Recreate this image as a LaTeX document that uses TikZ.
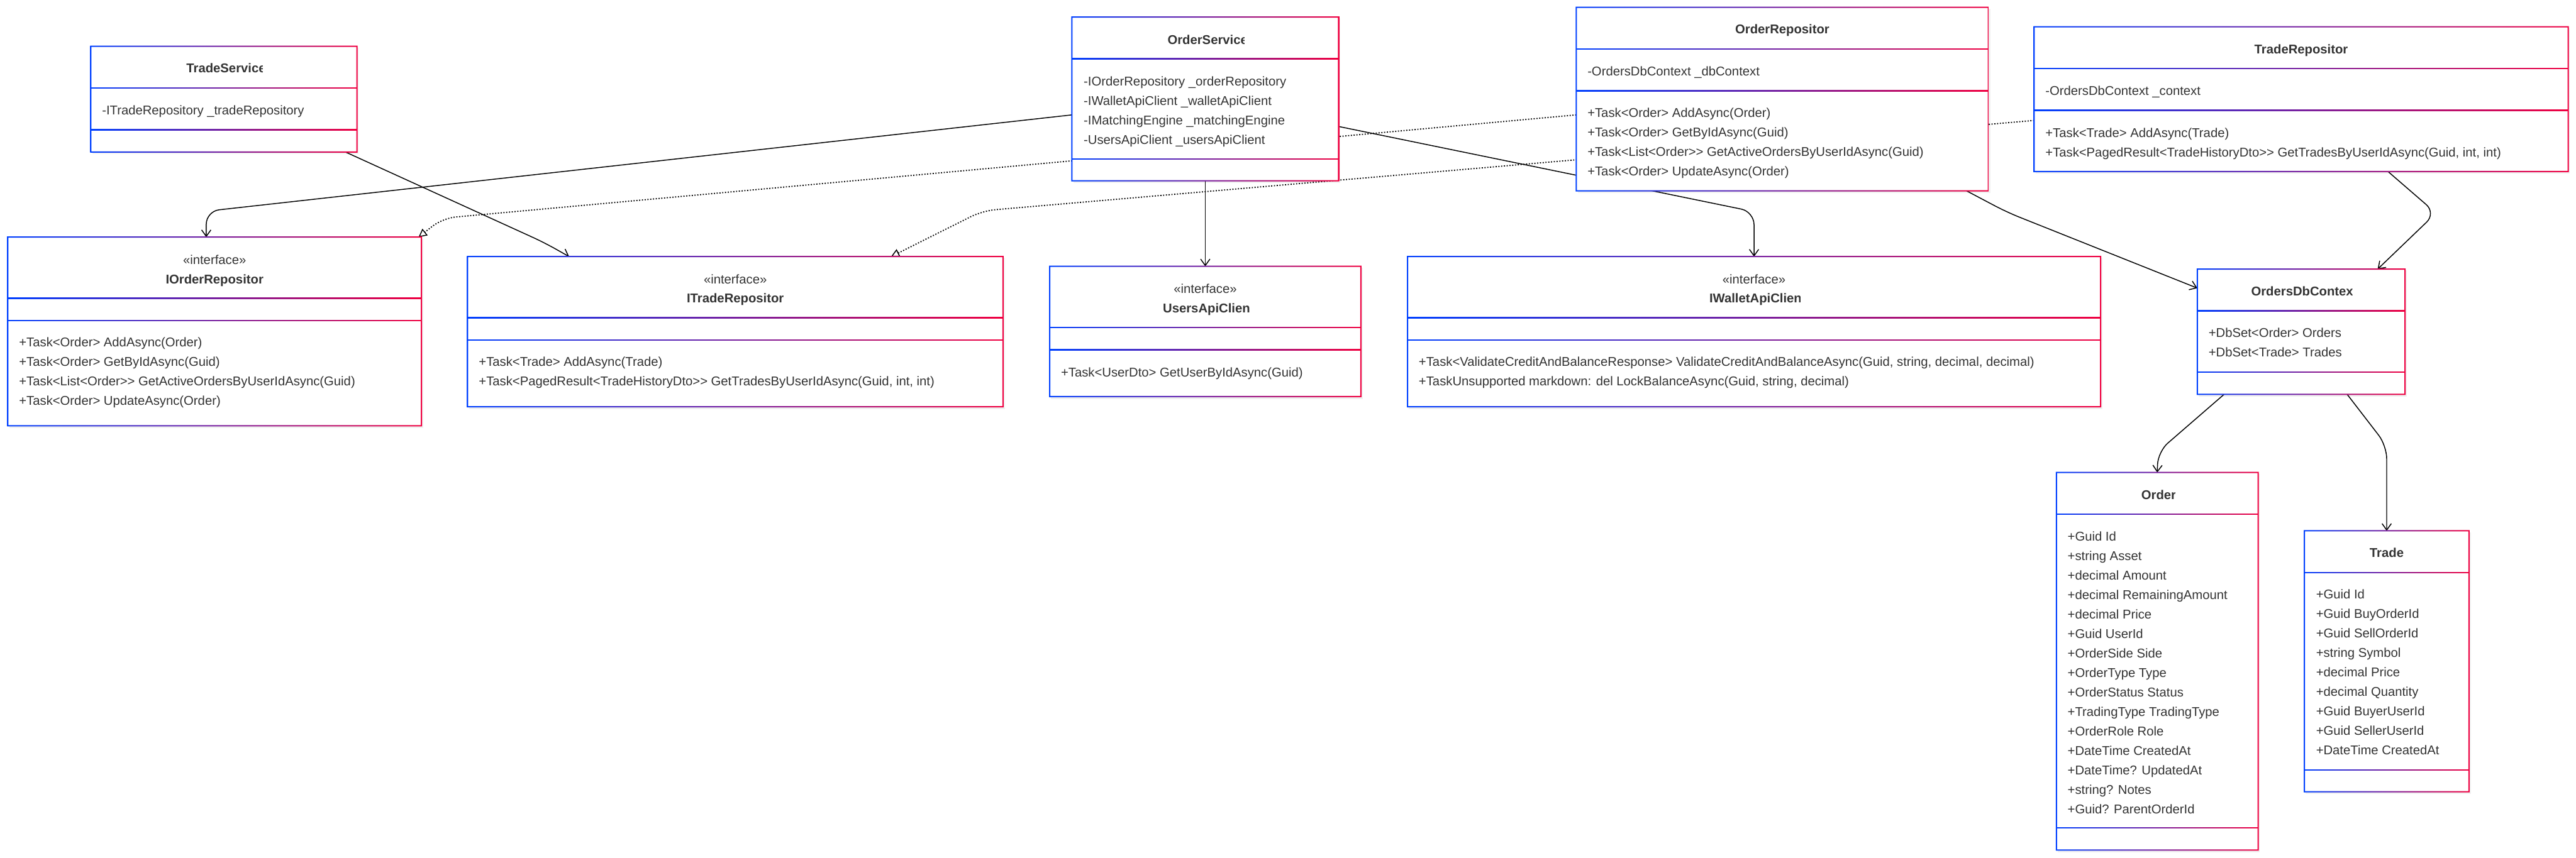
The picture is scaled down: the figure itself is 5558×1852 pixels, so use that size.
\documentclass[tikz,border=0pt]{standalone}
\usepackage{fontspec}
\setmainfont{Liberation Sans}
\usetikzlibrary{arrows.meta,calc}
\definecolor{ublue}{RGB}{0,64,255}
\definecolor{ured}{RGB}{240,0,64}
\definecolor{txtc}{HTML}{333333}
\tikzset{
 boxn/.style={inner sep=0pt,outer sep=0pt,draw=none},
 txt/.style={inner sep=0pt,anchor=base west,text=txtc,font=\fontsize{27.5}{33}\selectfont},
 ttl/.style={txt,font=\fontsize{27.5}{33}\selectfont\bfseries},
 ttlc/.style={ttl,anchor=base},
 ster/.style={txt,anchor=base},
 assoc/.style={line width=2pt,rounded corners=28pt,-{Straight Barb[length=14pt,width=20pt,line width=2pt]}},
 realize/.style={line width=2.5pt,dash pattern=on 2.5pt off 3.5pt,rounded corners=28pt,-{Triangle[open,length=18pt,width=18pt,line width=2pt,fill=white]}},
 gradfill/.style={left color=ublue,right color=ured},
}
\newcommand\defbox[5]{\node[boxn,minimum width=#4pt,minimum height=#5pt] (#1) at (#2,#3) {};}
\newcommand\drawbox[3]{%
 \fill[black,opacity=0.06] ([shift={(3,3)}]#1.north west) rectangle ([shift={(4,5)}]#1.south east);
 \fill[white] (#1.north west) rectangle (#1.south east);
 \shade[gradfill,even odd rule] ([shift={(-1.5,-1.5)}]#1.north west) rectangle ([shift={(1.5,1.5)}]#1.south east)
   ([shift={(1.2,1.2)}]#1.north west) rectangle ([shift={(-1.2,-1.2)}]#1.south east);
 \shade[gradfill] ([shift={(0,#2-1.05)}]#1.north west) rectangle ([shift={(0,#2+1.05)}]#1.north east);
 \shade[gradfill] ([shift={(0,#3-1.05)}]#1.north west) rectangle ([shift={(0,#3+1.05)}]#1.north east);
}
\newcommand\cliptitle[5]{%
 \begin{scope}\clip (#2-10,#4-35) rectangle (#3,#4+12);
 \node[ttl] (#1) at (#2,#4) {#5};\end{scope}}
\begin{document}
\begin{tikzpicture}[x=1pt,y=-1pt]
\useasboundingbox (0,0) rectangle (5558,1852);
\fill[white] (0,0) rectangle (5558,1852);
% box frames (invisible named nodes)
\defbox{tradesvc}{483}{214}{574}{228}
\defbox{ordsvc}{2600.5}{213.5}{575}{353}
\defbox{ordrepo}{3845.5}{214}{889}{396}
\defbox{trrepo}{4965}{214}{1152}{312}
\defbox{iordrepo}{463}{715.5}{892}{407}
\defbox{itrrepo}{1586.5}{716}{1155}{324}
\defbox{usersapi}{2600.5}{715.5}{671}{281}
\defbox{iwallet}{3784.5}{716}{1495}{324}
\defbox{dbctx}{4965}{716}{448}{270}
\defbox{order}{4654.5}{1427.5}{435}{815}
\defbox{trade}{5149.5}{1427.5}{355}{563}
% connectors
\draw[assoc] ([shift={(0,34.5)}]ordsvc.west) -- (445,456) -- ([shift={(-18,0)}]iordrepo.north);
\draw[assoc] ([shift={(-25,0)}]tradesvc.south east) -- (1175,524) -- ([shift={(219,0)}]itrrepo.north west);
\draw[assoc] (ordsvc.south) -- (usersapi.north);
\draw[assoc] ([shift={(0,59.5)}]ordsvc.east) -- (3784.5,457) -- (iwallet.north);
\draw[realize] ([shift={(0,34)}]ordrepo.west) -- (955,471) -- ([shift={(-6,0)}]iordrepo.north east);
\draw[realize] ([shift={(0,46)}]trrepo.west) -- (2120,455) -- ([shift={(336,0)}]itrrepo.north);
\draw[assoc] ([shift={(-47,0)}]ordrepo.south east) -- (4330,458) -- ([shift={(0,-94)}]dbctx.west);
\draw[assoc] ([shift={(187,0)}]trrepo.south) -- (5256,460) -- ([shift={(165,0)}]dbctx.north);
\draw[assoc] ([shift={(-166,0)}]dbctx.south) -- (4656,975) -- (order.north);
\draw[assoc] ([shift={(99,0)}]dbctx.south) -- (5149.5,962) -- (trade.north);
% boxes
\drawbox{tradesvc}{90}{180}
\drawbox{ordsvc}{90}{306}
\drawbox{ordrepo}{90}{180}
\drawbox{trrepo}{90}{180}
\drawbox{iordrepo}{132}{180}
\drawbox{itrrepo}{132}{180}
\drawbox{usersapi}{132}{180}
\drawbox{iwallet}{132}{180}
\drawbox{dbctx}{90}{222}
\drawbox{order}{90}{767}
\drawbox{trade}{90}{516}
% TradeService
\cliptitle{tsT}{402}{566}{157}{TradeService}
\node[txt] (tsA) at (220,248) {-ITradeRepository \_tradeRepository};
% OrderService
\cliptitle{osT}{2519}{2684}{95}{OrderService}
\node[txt] (osA1) at (2338,185) {-IOrderRepository \_orderRepository};
\node[txt] (osA2) at (2338,227) {-IWalletApiClient \_walletApiClient};
\node[txt] (osA3) at (2338,269) {-IMatchingEngine \_matchingEngine};
\node[txt] (osA4) at (2338,311) {-UsersApiClient \_usersApiClient};
% OrderRepository
\node[ttlc] (orT) at (3845.5,73) {OrderRepositor};
\node[txt] (orA) at (3425,163) {-OrdersDbContext \_dbContext};
\node[txt] (orM1) at (3425,253) {+Task<Order> AddAsync(Order)};
\node[txt] (orM2) at (3425,295) {+Task<Order> GetByIdAsync(Guid)};
\node[txt] (orM3) at (3425,337) {+Task<List<Order>{}> GetActiveOrdersByUserIdAsync(Guid)};
\node[txt] (orM4) at (3425,379) {+Task<Order> UpdateAsync(Order)};
% TradeRepository
\node[ttlc] (trT) at (4965,116) {TradeRepositor};
\node[txt] (trA) at (4413,206) {-OrdersDbContext \_context};
\node[txt] (trM1) at (4413,296) {+Task<Trade> AddAsync(Trade)};
\node[txt] (trM2) at (4413,338) {+Task<PagedResult<TradeHistoryDto>{}> GetTradesByUserIdAsync(Guid, int, int)};
% IOrderRepository
\node[ster] (ioS) at (463,570) {«interface»};
\node[ttlc] (ioT) at (463,612) {IOrderRepositor};
\node[txt] (ioM1) at (41,749) {+Task<Order> AddAsync(Order)};
\node[txt] (ioM2) at (41,791) {+Task<Order> GetByIdAsync(Guid)};
\node[txt] (ioM3) at (41,833) {+Task<List<Order>{}> GetActiveOrdersByUserIdAsync(Guid)};
\node[txt] (ioM4) at (41,875) {+Task<Order> UpdateAsync(Order)};
% ITradeRepository
\node[ster] (itS) at (1586.5,612) {«interface»};
\node[ttlc] (itT) at (1586.5,654) {ITradeRepositor};
\node[txt] (itM1) at (1033,791) {+Task<Trade> AddAsync(Trade)};
\node[txt] (itM2) at (1033,833) {+Task<PagedResult<TradeHistoryDto>{}> GetTradesByUserIdAsync(Guid, int, int)};
% UsersApiClient
\node[ster] (uaS) at (2600.5,633) {«interface»};
\cliptitle{uaT}{2509}{2695}{675}{UsersApiClient}
\node[txt] (uaM1) at (2289,813) {+Task<UserDto> GetUserByIdAsync(Guid)};
% IWalletApiClient
\node[ster] (iwS) at (3784.5,612) {«interface»};
\cliptitle{iwT}{3688}{3884}{654}{IWalletApiClient}
\node[txt] (iwM1) at (3061,791) {+Task<ValidateCreditAndBalanceResponse> ValidateCreditAndBalanceAsync(Guid, string, decimal, decimal)};
\node[txt] (iwM2) at (3061,833) {+TaskUnsupported markdown: del LockBalanceAsync(Guid, string, decimal)};
% OrdersDbContext
\cliptitle{dbT}{4857}{5076}{639}{OrdersDbContext}
\node[txt] (dbA1) at (4765,728) {+DbSet<Order> Orders};
\node[txt] (dbA2) at (4765,770) {+DbSet<Trade> Trades};
% Order
\cliptitle{odT}{4620}{4693}{1078}{Order}
\node[txt] (od1) at (4461,1168) {+Guid Id};
\node[txt] (od2) at (4461,1210) {+string Asset};
\node[txt] (od3) at (4461,1252) {+decimal Amount};
\node[txt] (od4) at (4461,1294) {+decimal RemainingAmount};
\node[txt] (od5) at (4461,1336) {+decimal Price};
\node[txt] (od6) at (4461,1378) {+Guid UserId};
\node[txt] (od7) at (4461,1420) {+OrderSide Side};
\node[txt] (od8) at (4461,1462) {+OrderType Type};
\node[txt] (od9) at (4461,1504) {+OrderStatus Status};
\node[txt] (od10) at (4461,1546) {+TradingType TradingType};
\node[txt] (od11) at (4461,1588) {+OrderRole Role};
\node[txt] (od12) at (4461,1630) {+DateTime CreatedAt};
\node[txt] (od13) at (4461,1672) {+DateTime? UpdatedAt};
\node[txt] (od14) at (4461,1714) {+string? Notes};
\node[txt] (od15) at (4461,1756) {+Guid? ParentOrderId};
% Trade
\node[ttlc] (tdT) at (5149.5,1203) {Trade};
\node[txt] (td1) at (4997,1293) {+Guid Id};
\node[txt] (td2) at (4997,1335) {+Guid BuyOrderId};
\node[txt] (td3) at (4997,1377) {+Guid SellOrderId};
\node[txt] (td4) at (4997,1419) {+string Symbol};
\node[txt] (td5) at (4997,1461) {+decimal Price};
\node[txt] (td6) at (4997,1503) {+decimal Quantity};
\node[txt] (td7) at (4997,1545) {+Guid BuyerUserId};
\node[txt] (td8) at (4997,1587) {+Guid SellerUserId};
\node[txt] (td9) at (4997,1629) {+DateTime CreatedAt};
\end{tikzpicture}
\end{document}
